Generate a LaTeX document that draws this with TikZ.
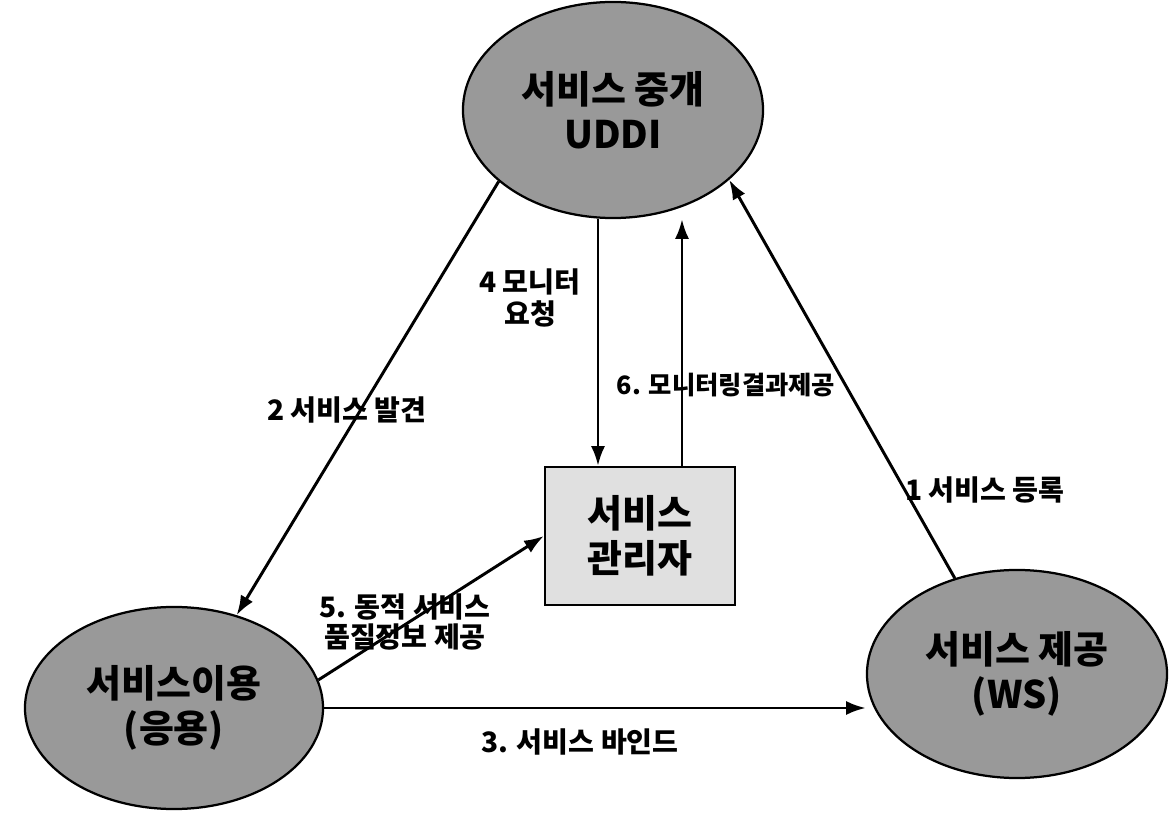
\documentclass[tikz,border=0pt]{standalone}
\usepackage{fontspec}
\setmainfont{Noto Sans CJK KR}
\usetikzlibrary{shapes.geometric,arrows.meta,calc}

\tikzset{
  party/.style={draw, line width=1.6pt, ellipse, fill=black!40, inner sep=0pt,
    font=\bfseries\fontsize{27}{32}\selectfont, align=center},
  flow/.style={line width=2.1pt, -{Latex[length=14pt,width=10pt]}},
  tag/.style={font=\bfseries\fontsize{20}{23}\selectfont, align=center}
}

\begin{document}
\begin{tikzpicture}[x=0.025cm, y=-0.025cm]
\useasboundingbox (0,0) rectangle (1173,813);

\node [party, minimum width=7.5cm, minimum height=5.4cm] (uddi) at (613,110) {서비스 중개\\UDDI};
\node [party, minimum width=7.45cm, minimum height=5.05cm] (user) at (174,708) {서비스이용\\(응용)};
\node [party, minimum width=7.5cm, minimum height=5.2cm] (prov) at (1017,674) {서비스 제공\\(WS)};

\node [draw, line width=1.6pt, fill=black!12, minimum width=4.75cm, minimum height=3.45cm,
  font=\bfseries\fontsize{27}{32}\selectfont, align=center] (mgr) at (640,536) {서비스\\관리자};

\coordinate (m4) at ($(mgr.north)+(-42,0)$);
\coordinate (m6) at ($(mgr.north)+(42,0)$);

\draw [flow] (prov.123) -- (uddi.-31);
\draw [flow] (uddi.212) -- (user.56);
\draw [flow] (user.east) -- (user.east -| prov.west);
\draw [flow] (m4 |- uddi.south) -- (m4);
\draw [flow] (user.11) -- (mgr.west);
\draw [flow] (m6) -- (m6 |- uddi.south);

\node [tag] (t1) at (985,490) {1 서비스 등록};
\node [tag] (t2) at (347,410) {2 서비스 발견};
\node [tag] (t3) at (580,742) {3. 서비스 바인드};
\node [tag] (t4) at (530,298) {4 모니터\\요청};
\node [tag, font=\bfseries\fontsize{20}{21}\selectfont] (t5) at (405,622) {5. 동적 서비스\\품질정보 제공};
\node [tag, anchor=west, font=\bfseries\fontsize{18}{21}\selectfont] (t6) at (612,385) {6. 모니터링결과제공};

\end{tikzpicture}
\end{document}
